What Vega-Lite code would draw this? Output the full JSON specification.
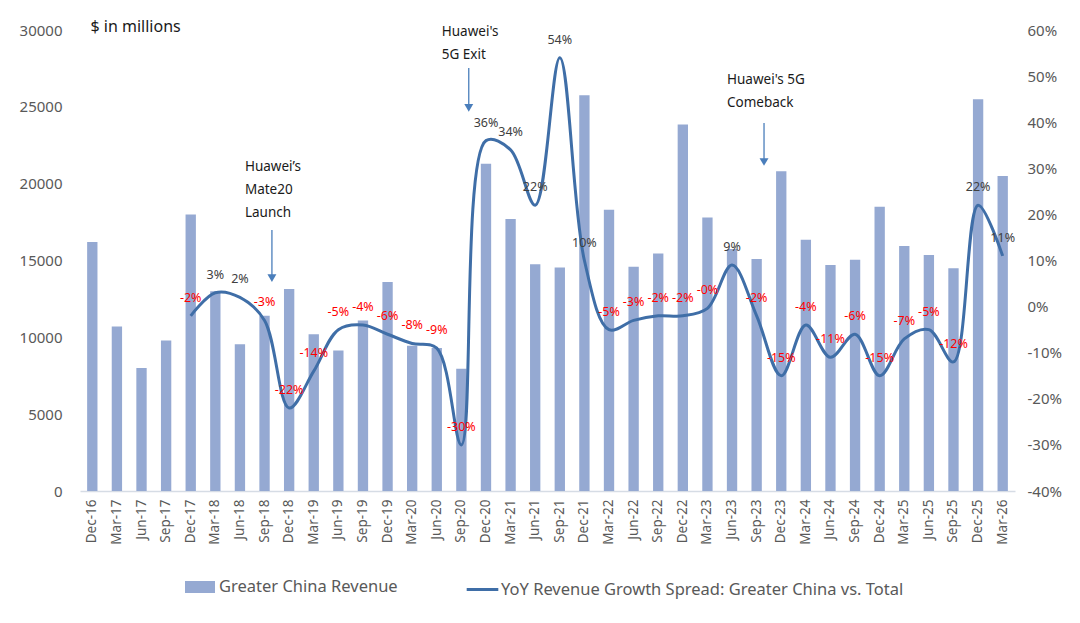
{
  "$schema": "https://vega.github.io/schema/vega-lite/v6.json",
  "width": 935,
  "height": 461,
  "autosize": {"type": "none"},
  "padding": {"left": 80, "top": 30, "right": 65, "bottom": 132},
  "background": "white",
  "config": {
    "view": {"stroke": null},
    "font": "Noto Sans",
    "axis": {"grid": false, "ticks": false}
  },
  "datasets": {
    "quarters": [
      {"q": "Dec-16", "rev": 16200, "spread": null, "label": null},
      {"q": "Mar-17", "rev": 10700, "spread": null, "label": null},
      {"q": "Jun-17", "rev": 8000, "spread": null, "label": null},
      {"q": "Sep-17", "rev": 9800, "spread": null, "label": null},
      {"q": "Dec-17", "rev": 18000, "spread": -0.02, "label": "-2%"},
      {"q": "Mar-18", "rev": 13000, "spread": 0.03, "label": "3%"},
      {"q": "Jun-18", "rev": 9550, "spread": 0.02, "label": "2%"},
      {"q": "Sep-18", "rev": 11400, "spread": -0.03, "label": "-3%"},
      {"q": "Dec-18", "rev": 13150, "spread": -0.22, "label": "-22%"},
      {"q": "Mar-19", "rev": 10200, "spread": -0.14, "label": "-14%"},
      {"q": "Jun-19", "rev": 9150, "spread": -0.05, "label": "-5%"},
      {"q": "Sep-19", "rev": 11100, "spread": -0.04, "label": "-4%"},
      {"q": "Dec-19", "rev": 13600, "spread": -0.06, "label": "-6%"},
      {"q": "Mar-20", "rev": 9450, "spread": -0.08, "label": "-8%"},
      {"q": "Jun-20", "rev": 9300, "spread": -0.09, "label": "-9%"},
      {"q": "Sep-20", "rev": 7950, "spread": -0.30, "label": "-30%"},
      {"q": "Dec-20", "rev": 21300, "spread": 0.36, "label": "36%"},
      {"q": "Mar-21", "rev": 17700, "spread": 0.34, "label": "34%"},
      {"q": "Jun-21", "rev": 14750, "spread": 0.22, "label": "22%"},
      {"q": "Sep-21", "rev": 14550, "spread": 0.54, "label": "54%"},
      {"q": "Dec-21", "rev": 25750, "spread": 0.10, "label": "10%"},
      {"q": "Mar-22", "rev": 18300, "spread": -0.05, "label": "-5%"},
      {"q": "Jun-22", "rev": 14600, "spread": -0.03, "label": "-3%"},
      {"q": "Sep-22", "rev": 15450, "spread": -0.02, "label": "-2%"},
      {"q": "Dec-22", "rev": 23850, "spread": -0.02, "label": "-2%"},
      {"q": "Mar-23", "rev": 17800, "spread": -0.004, "label": "-0%"},
      {"q": "Jun-23", "rev": 15750, "spread": 0.09, "label": "9%"},
      {"q": "Sep-23", "rev": 15100, "spread": -0.02, "label": "-2%"},
      {"q": "Dec-23", "rev": 20800, "spread": -0.15, "label": "-15%"},
      {"q": "Mar-24", "rev": 16350, "spread": -0.04, "label": "-4%"},
      {"q": "Jun-24", "rev": 14700, "spread": -0.11, "label": "-11%"},
      {"q": "Sep-24", "rev": 15050, "spread": -0.06, "label": "-6%"},
      {"q": "Dec-24", "rev": 18500, "spread": -0.15, "label": "-15%"},
      {"q": "Mar-25", "rev": 15950, "spread": -0.07, "label": "-7%"},
      {"q": "Jun-25", "rev": 15350, "spread": -0.05, "label": "-5%"},
      {"q": "Sep-25", "rev": 14500, "spread": -0.12, "label": "-12%"},
      {"q": "Dec-25", "rev": 25500, "spread": 0.22, "label": "22%"},
      {"q": "Mar-26", "rev": 20500, "spread": 0.11, "label": "11%"}
    ],
    "notes": [
      {"q": "Sep-18", "top": 21560, "lines": ["Huawei’s", "Mate20", "Launch"], "from": 16990, "to": 13860},
      {"q": "Sep-20", "top": 30335, "lines": ["Huawei's", "5G Exit"], "from": 27530, "to": 24925},
      {"q": "Sep-23", "top": 27200, "lines": ["Huawei's 5G", "Comeback"], "from": 23950, "to": 21410}
    ]
  },
  "layer": [
    {
      "layer": [
        {
          "data": {"name": "quarters"},
          "mark": {"type": "bar", "width": {"band": 0.42}},
          "encoding": {
            "x": {
              "field": "q",
              "type": "ordinal",
              "sort": null,
              "scale": {"paddingInner": 0, "paddingOuter": 0},
              "axis": {
                "title": null,
                "labelAngle": -90,
                "labelFontSize": 13.5,
                "labelColor": "#595959",
                "labelPadding": 8,
                "domainColor": "#D6DCE5",
                "domainWidth": 1.5
              }
            },
            "y": {
              "field": "rev",
              "type": "quantitative",
              "scale": {"domain": [0, 30000], "nice": false},
              "axis": {
                "values": [0, 5000, 10000, 15000, 20000, 25000, 30000],
                "format": "d",
                "domain": false,
                "labelFontSize": 15,
                "labelColor": "#595959",
                "labelPadding": 18,
                "title": "$ in millions",
                "titleAngle": 0,
                "titleX": 10,
                "titleY": -4,
                "titleAlign": "left",
                "titleBaseline": "middle",
                "titleFontSize": 16,
                "titleFontWeight": "normal",
                "titleColor": "#1a1a1a"
              }
            },
            "fill": {
              "datum": "Greater China Revenue",
              "type": "nominal",
              "scale": {"range": ["#95A9D2"]},
              "legend": {
                "orient": "none",
                "legendX": 105,
                "legendY": 542,
                "title": null,
                "symbolType": "M-1,-0.4H1V0.4H-1Z",
                "symbolSize": 900,
                "symbolStrokeWidth": 0,
                "labelFontSize": 16.5,
                "labelColor": "#595959",
                "labelOffset": 4,
                "labelLimit": 600
              }
            }
          }
        },
        {
          "data": {"name": "notes"},
          "mark": {"type": "rule", "color": "#4A7EBB", "strokeWidth": 1.3},
          "encoding": {
            "x": {"field": "q", "type": "ordinal", "sort": null, "bandPosition": 0.8},
            "y": {"field": "from", "type": "quantitative"},
            "y2": {"field": "to"}
          }
        },
        {
          "data": {"name": "notes"},
          "mark": {"type": "point", "shape": "triangle-down", "filled": true, "size": 80, "color": "#4A7EBB", "opacity": 1},
          "encoding": {
            "x": {"field": "q", "type": "ordinal", "sort": null, "bandPosition": 0.8},
            "y": {"field": "to", "type": "quantitative"}
          }
        },
        {
          "data": {"name": "notes"},
          "transform": [{"filter": "datum.q != 'Sep-23'"}],
          "mark": {"type": "text", "align": "left", "baseline": "top", "dx": -27, "fontSize": 13.5, "lineHeight": 23.3, "color": "#1a1a1a"},
          "encoding": {
            "x": {"field": "q", "type": "ordinal", "sort": null, "bandPosition": 0.8},
            "y": {"field": "top", "type": "quantitative"},
            "text": {"field": "lines"}
          }
        },
        {
          "data": {"name": "notes"},
          "transform": [{"filter": "datum.q == 'Sep-23'"}],
          "mark": {"type": "text", "align": "left", "baseline": "top", "dx": -37, "fontSize": 13.5, "lineHeight": 23.3, "color": "#1a1a1a"},
          "encoding": {
            "x": {"field": "q", "type": "ordinal", "sort": null, "bandPosition": 0.8},
            "y": {"field": "top", "type": "quantitative"},
            "text": {"field": "lines"}
          }
        }
      ]
    },
    {
      "data": {"name": "quarters"},
      "transform": [{"filter": "datum.spread != null"}],
      "layer": [
        {
          "mark": {"type": "line", "interpolate": "catmull-rom", "strokeWidth": 3},
          "encoding": {
            "x": {"field": "q", "type": "ordinal", "sort": null},
            "y": {
              "field": "spread",
              "type": "quantitative",
              "scale": {"domain": [-0.4, 0.6], "nice": false, "zero": false},
              "axis": {
                "orient": "right",
                "title": null,
                "domain": false,
                "values": [-0.4, -0.3, -0.2, -0.1, 0, 0.1, 0.2, 0.3, 0.4, 0.5, 0.6],
                "labelExpr": "(datum.value < -0.0001 ? '-' : '') + format(abs(datum.value), '.0%')",
                "labelFontSize": 15,
                "labelColor": "#595959",
                "labelPadding": 12
              }
            },
            "stroke": {
              "datum": "YoY Revenue Growth Spread: Greater China vs. Total",
              "type": "nominal",
              "scale": {"range": ["#3F6EA7"]},
              "legend": {
                "orient": "none",
                "legendX": 385,
                "legendY": 542,
                "title": null,
                "symbolType": "stroke",
                "symbolSize": 1000,
                "symbolStrokeWidth": 3,
                "labelFontSize": 16.5,
                "labelColor": "#595959",
                "labelOffset": 1,
                "labelLimit": 700
              }
            }
          }
        },
        {
          "mark": {"type": "text", "baseline": "middle", "align": "center", "dy": -18, "fontSize": 12.5},
          "encoding": {
            "x": {"field": "q", "type": "ordinal", "sort": null},
            "y": {"field": "spread", "type": "quantitative"},
            "text": {"field": "label"},
            "color": {
              "condition": {"test": "datum.spread < 0", "value": "#FF0000"},
              "value": "#404040"
            }
          }
        }
      ]
    }
  ],
  "resolve": {"scale": {"y": "independent", "fill": "independent", "stroke": "independent"}}
}
